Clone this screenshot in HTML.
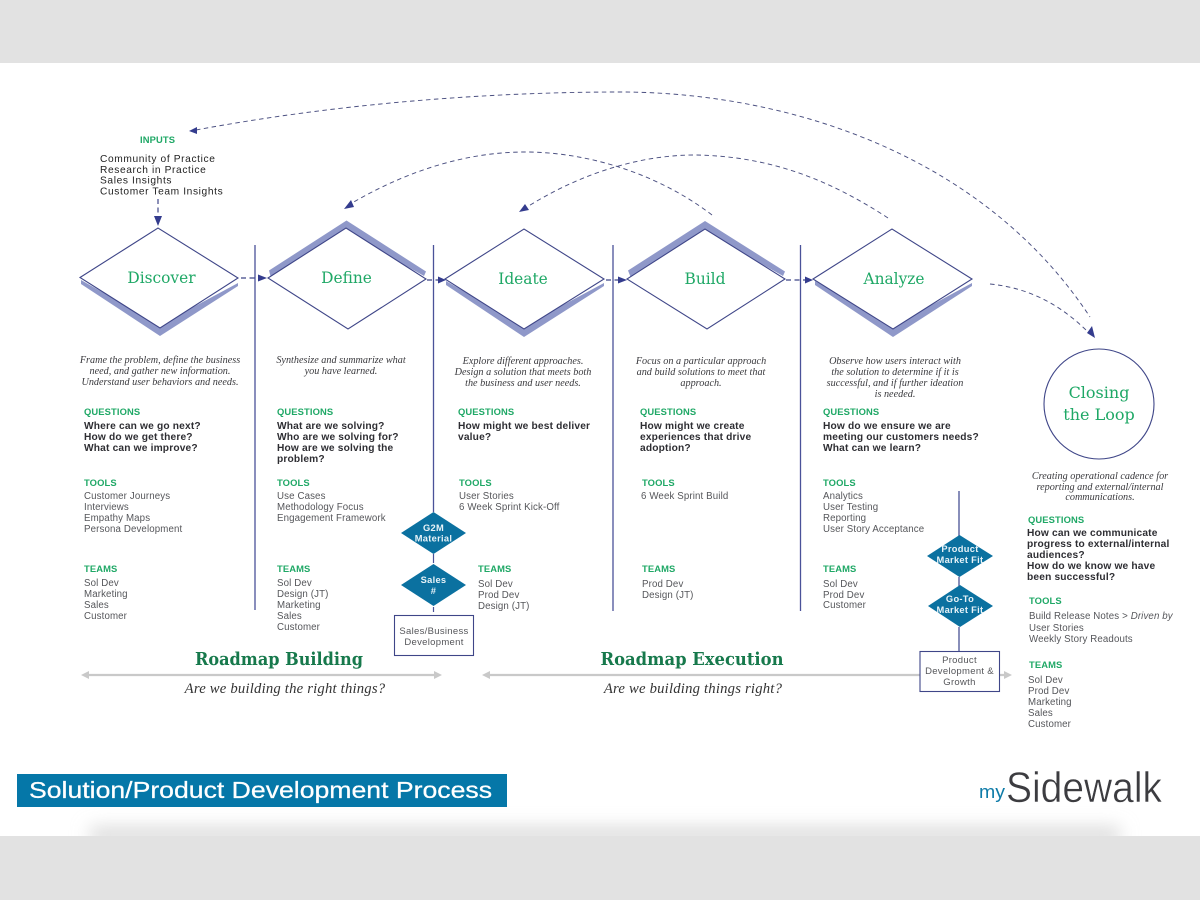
<!DOCTYPE html>
<html><head><meta charset="utf-8"><style>
html,body{margin:0;padding:0;background:#fff}
svg{display:block}
.h{font:bold 9.4px "Liberation Sans",sans-serif;fill:#1fa866;letter-spacing:.12px}
.q{font:bold 10.2px "Liberation Sans",sans-serif;fill:#2e2e33;letter-spacing:.17px}
.p{font:10.2px "Liberation Sans",sans-serif;fill:#222;letter-spacing:.62px}
.b{font:9.7px "Liberation Sans",sans-serif;fill:#55565a;letter-spacing:.13px}
.i{font:italic 10.2px "Liberation Serif",serif;fill:#3a3a3e;text-anchor:middle}
.t{font:15.4px "DejaVu Serif",serif;fill:#1fa866;text-anchor:middle}
.c{font:16px "DejaVu Serif",serif;fill:#1fa866;text-anchor:middle}
.w{font:bold 9.3px "Liberation Sans",sans-serif;fill:#e8f3f8;text-anchor:middle;letter-spacing:.3px}
.bx{font:9.5px "Liberation Sans",sans-serif;fill:#55565a;text-anchor:middle;letter-spacing:.3px}
.r{font:bold 18px "DejaVu Serif",serif;fill:#17794c;text-anchor:middle}
.a{font:italic 14.7px "Liberation Serif",serif;fill:#333;text-anchor:middle;letter-spacing:.2px}
.d{fill:none;stroke:#4a4f80;stroke-width:.95;stroke-dasharray:4.5 3.5}
.d2{fill:none;stroke:#3f4688;stroke-width:1.2;stroke-dasharray:5 3.5}
.v{stroke:#4a5299;stroke-width:1.3;fill:none}
.s{fill:#8f98c9}.m{fill:#fff;stroke:#3f4688;stroke-width:1.1}.k{fill:#343c8e}
.bd{fill:#0b71a0}
</style></head><body>
<svg width="1200" height="900" viewBox="0 0 1200 900" xmlns="http://www.w3.org/2000/svg">
<defs><filter id="bl" x="-10%" y="-200%" width="120%" height="500%"><feGaussianBlur stdDeviation="9"/></filter></defs>
<rect width="1200" height="900" fill="#fff"/>
<rect x="90" y="828" width="1030" height="14" fill="#d4d4d4" filter="url(#bl)"/>
<rect y="836" width="1200" height="64" fill="#e2e2e2"/>
<rect width="1200" height="63" fill="#e2e2e2"/>

<!-- arcs -->
<path class="d" d="M196,130 C330,105 480,92 620,92 C780,92 980,150 1090,317"/>
<path class="d" d="M712,215 C660,175 590,152 525,152 C460,152 400,175 352,203"/>
<path class="d" d="M888,218 C830,180 770,156 695,155 C630,155 570,180 527,207"/>
<path class="d" d="M990,284 C1030,288 1060,305 1086,330"/>
<path class="d2" d="M158,199 V216"/>
<polygon class="k" points="189,131 197,127 197,134"/><polygon class="k" points="344,209 351,200 354,207"/>
<polygon class="k" points="519,212 525,204 529,210"/><polygon class="k" points="1095,338 1087,333 1092,326"/>
<polygon class="k" points="158,226 154,216 162,216"/>

<!-- shadows -->
<polygon class="s" points="81,284 160,336 238,286 238,283 160,325 81,280"/>
<polygon class="s" points="269,270.500 346.500,220.500 426,271.500 424,276 346,232 271,278"/>
<polygon class="s" points="446,285 524,337 604,286 604,283 524,326 446,281"/>
<polygon class="s" points="628,270.500 705,221 785,271.500 783,276 705,232 631,278"/>
<polygon class="s" points="815,285 893,337 972,286 972,283 893,326 815,281"/>
<!-- diamonds -->
<polygon class="m" points="80,277.500 158,228 238,278 160,328"/>
<polygon class="m" points="268,278 346,228 426,279 348,329"/>
<polygon class="m" points="445,279 524,229 604,279 524,329"/>
<polygon class="m" points="627,279 705,229 785,279 707,329"/>
<polygon class="m" points="813,279 892,229 972,279 893,329"/>
<text class="t" x="161.500" y="283">Discover</text>
<text class="t" x="346.500" y="283">Define</text>
<text class="t" x="523" y="284">Ideate</text>
<text class="t" x="705" y="284">Build</text>
<text class="t" x="894" y="284">Analyze</text>

<!-- dashed connectors -->
<path class="d2" d="M241,278 H259"/><polygon class="k" points="267,278 258,274.500 258,281.500"/>
<path class="d2" d="M427,280 H438"/><polygon class="k" points="446,280 438,276.500 438,283.500"/>
<path class="d2" d="M606,280 H619"/><polygon class="k" points="627,280 618,276.500 618,283.500"/>
<path class="d2" d="M786,280 H805"/><polygon class="k" points="813,280 805,276.500 805,283.500"/>

<!-- verticals -->
<path class="v" d="M255,245 V610 M433.500,245 V512 M613,245 V611 M800.500,245 V611"/>
<path d="M959,491 V536" stroke="#6a72a8" stroke-width="1.6"/>
<path d="M959,577 V586 M959,627 V651" stroke="#6a72a8" stroke-width="1.6"/>
<path d="M433.500,554 V563 M433.500,607 V612" stroke="#4a5299" stroke-width="1.2"/>

<!-- blue diamonds -->
<polygon class="bd" points="401,533 433.500,512 466,533 433.500,554"/>
<polygon class="bd" points="401,585 433.500,564 466,585 433.500,606"/>
<polygon class="bd" points="927,556 959.500,535 993,556 959.500,577"/>
<polygon class="bd" points="928,606 960,585 993,606 960,627"/>
<text class="w" x="433.500" y="531">G2M</text><text class="w" x="433.500" y="541.500">Material</text>
<text class="w" x="433.500" y="583">Sales</text><text class="w" x="433.500" y="594">#</text>
<text class="w" x="960" y="552">Product</text><text class="w" x="960" y="563">Market Fit</text>
<text class="w" x="960" y="602">Go-To</text><text class="w" x="960" y="613">Market Fit</text>
<rect x="394.500" y="615.500" width="79" height="40" fill="#fff" stroke="#3f4688" stroke-width="1.1"/>
<text class="bx" x="434" y="634">Sales/Business</text><text class="bx" x="434" y="645">Development</text>

<!-- gray arrows -->
<path d="M88,675 H436 M489,675 H920 M972,675 H1005" stroke="#c9c9c9" stroke-width="2.200" fill="none"/>
<polygon points="81,675 89,671 89,679" fill="#c9c9c9"/><polygon points="442,675 434,671 434,679" fill="#c9c9c9"/>
<polygon points="482,675 490,671 490,679" fill="#c9c9c9"/><polygon points="1012,675 1004,671 1004,679" fill="#c9c9c9"/>
<rect x="920" y="651.500" width="79.500" height="40" fill="#fff" stroke="#3f4688" stroke-width="1.1"/>
<text class="bx" x="959.500" y="663">Product</text><text class="bx" x="959.500" y="674">Development &amp;</text><text class="bx" x="959.500" y="685">Growth</text>

<text class="r" x="279" y="665" textLength="168" lengthAdjust="spacingAndGlyphs">Roadmap Building</text>
<text class="a" x="285" y="693">Are we building the right things?</text>
<text class="r" x="692" y="665" textLength="183" lengthAdjust="spacingAndGlyphs">Roadmap Execution</text>
<text class="a" x="693" y="693">Are we building things right?</text>

<!-- inputs -->
<text class="h" x="140" y="143">INPUTS</text>
<text class="p" x="100" y="162">Community of Practice</text>
<text class="p" x="100" y="173">Research in Practice</text>
<text class="p" x="100" y="183.500">Sales Insights</text>
<text class="p" x="100" y="194.500">Customer Team Insights</text>

<!-- col 1 -->
<text class="i" x="160" y="363">Frame the problem, define the business</text>
<text class="i" x="160" y="374">need, and gather new information.</text>
<text class="i" x="160" y="385">Understand user behaviors and needs.</text>
<text class="h" x="84" y="415">QUESTIONS</text>
<text class="q" x="84" y="429">Where can we go next?</text><text class="q" x="84" y="440">How do we get there?</text><text class="q" x="84" y="451">What can we improve?</text>
<text class="h" x="84" y="486">TOOLS</text>
<text class="b" x="84" y="499">Customer Journeys</text><text class="b" x="84" y="510">Interviews</text><text class="b" x="84" y="521">Empathy Maps</text><text class="b" x="84" y="532">Persona Development</text>
<text class="h" x="84" y="572">TEAMS</text>
<text class="b" x="84" y="586">Sol Dev</text><text class="b" x="84" y="597">Marketing</text><text class="b" x="84" y="608">Sales</text><text class="b" x="84" y="619">Customer</text>

<!-- col 2 -->
<text class="i" x="341" y="363">Synthesize and summarize what</text>
<text class="i" x="341" y="374">you have learned.</text>
<text class="h" x="277" y="415">QUESTIONS</text>
<text class="q" x="277" y="429">What are we solving?</text><text class="q" x="277" y="440">Who are we solving for?</text><text class="q" x="277" y="451">How are we solving the</text><text class="q" x="277" y="462">problem?</text>
<text class="h" x="277" y="486">TOOLS</text>
<text class="b" x="277" y="499">Use Cases</text><text class="b" x="277" y="510">Methodology Focus</text><text class="b" x="277" y="521">Engagement Framework</text>
<text class="h" x="277" y="572">TEAMS</text>
<text class="b" x="277" y="586">Sol Dev</text><text class="b" x="277" y="597">Design (JT)</text><text class="b" x="277" y="608">Marketing</text><text class="b" x="277" y="619">Sales</text><text class="b" x="277" y="630">Customer</text>

<!-- col 3 -->
<text class="i" x="523" y="364">Explore different approaches.</text>
<text class="i" x="523" y="375">Design a solution that meets both</text>
<text class="i" x="523" y="386">the business and user needs.</text>
<text class="h" x="458" y="415">QUESTIONS</text>
<text class="q" x="458" y="429">How might we best deliver</text><text class="q" x="458" y="440">value?</text>
<text class="h" x="459" y="486">TOOLS</text>
<text class="b" x="459" y="499">User Stories</text><text class="b" x="459" y="510">6 Week Sprint Kick-Off</text>
<text class="h" x="478" y="572">TEAMS</text>
<text class="b" x="478" y="587">Sol Dev</text><text class="b" x="478" y="598">Prod Dev</text><text class="b" x="478" y="609">Design (JT)</text>

<!-- col 4 -->
<text class="i" x="701" y="364">Focus on a particular approach</text>
<text class="i" x="701" y="375">and build solutions to meet that</text>
<text class="i" x="701" y="386">approach.</text>
<text class="h" x="640" y="415">QUESTIONS</text>
<text class="q" x="640" y="429">How might we create</text><text class="q" x="640" y="440">experiences that drive</text><text class="q" x="640" y="451">adoption?</text>
<text class="h" x="642" y="486">TOOLS</text>
<text class="b" x="641" y="499">6 Week Sprint Build</text>
<text class="h" x="642" y="572">TEAMS</text>
<text class="b" x="642" y="587">Prod Dev</text><text class="b" x="642" y="598">Design (JT)</text>

<!-- col 5 -->
<text class="i" x="895" y="364">Observe how users interact with</text>
<text class="i" x="895" y="375">the solution to determine if it is</text>
<text class="i" x="895" y="386">successful, and if further ideation</text>
<text class="i" x="895" y="397">is needed.</text>
<text class="h" x="823" y="415">QUESTIONS</text>
<text class="q" x="823" y="429">How do we ensure we are</text><text class="q" x="823" y="440">meeting our customers needs?</text><text class="q" x="823" y="451">What can we learn?</text>
<text class="h" x="823" y="486">TOOLS</text>
<text class="b" x="823" y="499">Analytics</text><text class="b" x="823" y="510">User Testing</text><text class="b" x="823" y="521">Reporting</text><text class="b" x="823" y="532">User Story Acceptance</text>
<text class="h" x="823" y="572">TEAMS</text>
<text class="b" x="823" y="587">Sol Dev</text><text class="b" x="823" y="598">Prod Dev</text><text class="b" x="823" y="608">Customer</text>

<!-- closing -->
<circle cx="1099" cy="404" r="55" fill="#fff" stroke="#3f4688" stroke-width="1.1"/>
<text class="c" x="1099" y="398">Closing</text>
<text class="c" x="1099" y="420">the Loop</text>
<text class="i" x="1100" y="479">Creating operational cadence for</text>
<text class="i" x="1100" y="490">reporting and external/internal</text>
<text class="i" x="1100" y="500">communications.</text>
<text class="h" x="1028" y="523">QUESTIONS</text>
<text class="q" x="1027" y="536">How can we communicate</text><text class="q" x="1027" y="547">progress to external/internal</text><text class="q" x="1027" y="558">audiences?</text><text class="q" x="1027" y="569">How do we know we have</text><text class="q" x="1027" y="580">been successful?</text>
<text class="h" x="1029" y="604">TOOLS</text>
<text class="b" x="1029" y="619">Build Release Notes &gt; <tspan font-style="italic">Driven by</tspan></text>
<text class="b" x="1029" y="631" font-style="italic">User Stories</text>
<text class="b" x="1029" y="642">Weekly Story Readouts</text>
<text class="h" x="1029" y="668">TEAMS</text>
<text class="b" x="1028" y="683">Sol Dev</text><text class="b" x="1028" y="694">Prod Dev</text><text class="b" x="1028" y="705">Marketing</text><text class="b" x="1028" y="716">Sales</text><text class="b" x="1028" y="727">Customer</text>

<!-- footer -->
<rect x="17" y="774" width="490" height="33" fill="#0577a8"/>
<text x="29" y="798" font-family="Liberation Sans, sans-serif" font-size="23" fill="#fff" stroke="#fff" stroke-width=".25" textLength="463" lengthAdjust="spacingAndGlyphs">Solution/Product Development Process</text>
<text x="979" y="798" font-family="Liberation Sans, sans-serif" font-size="18" fill="#0e7ba8" textLength="26" lengthAdjust="spacingAndGlyphs">my</text>
<text x="1006" y="802" font-family="Liberation Sans, sans-serif" font-size="43" fill="#3c3c40" stroke="#fff" stroke-width=".5" textLength="156" lengthAdjust="spacingAndGlyphs">Sidewalk</text>
</svg>
</body></html>
